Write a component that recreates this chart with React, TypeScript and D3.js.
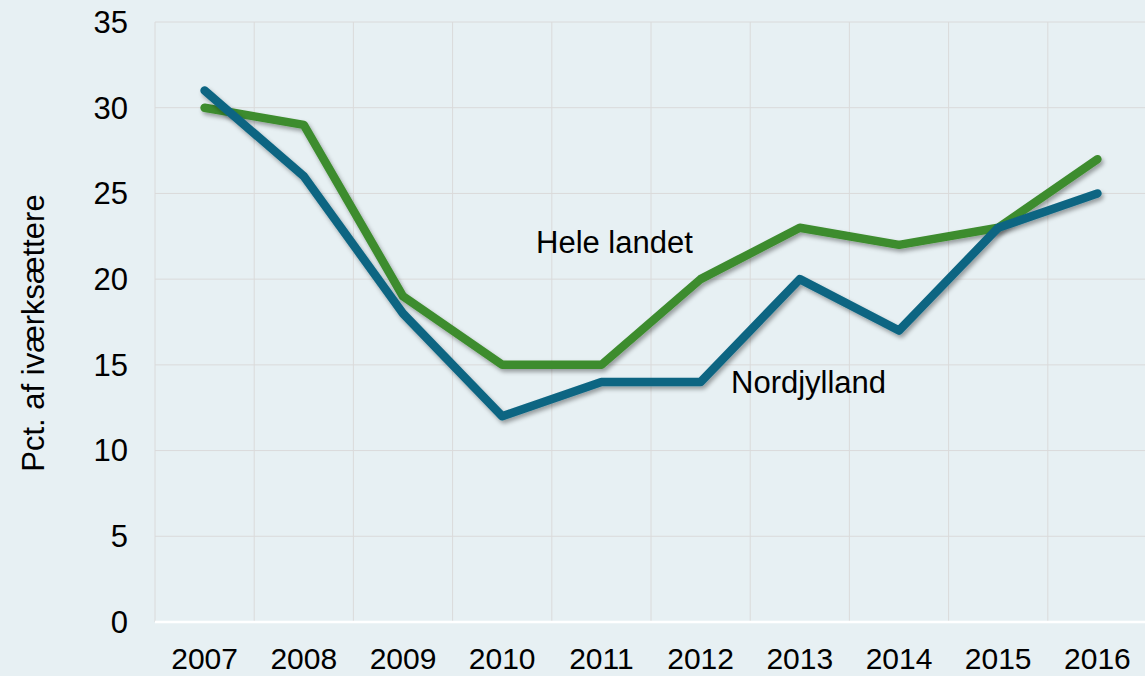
import { useEffect, useRef } from "react";
import * as d3 from "d3";

const years = ["2007", "2008", "2009", "2010", "2011", "2012", "2013", "2014", "2015", "2016"];
const heleLandet = [30, 29, 19, 15, 15, 20, 23, 22, 23, 27];
const nordjylland = [31, 26, 18, 12, 14, 14, 20, 17, 23, 25];
const yTicks = [0, 5, 10, 15, 20, 25, 30, 35];

export default function App() {
  const width = 1145;
  const height = 676;
  const margin = { top: 22, right: -2, bottom: 54, left: 155 };
  const svgRef = useRef<SVGSVGElement>(null);

  useEffect(() => {
    const svg = d3.select(svgRef.current);
    svg.selectAll("*").remove();

    const font = "'Liberation Sans', Arial, sans-serif";

    const x = d3
      .scaleBand()
      .domain(years)
      .range([margin.left, width - margin.right]);

    const y = d3
      .scaleLinear()
      .domain([0, 35])
      .range([height - margin.bottom, margin.top]);

    svg
      .append("rect")
      .attr("width", width)
      .attr("height", height)
      .attr("fill", "#e7f0f3");

    const defs = svg.append("defs");
    defs
      .append("filter")
      .attr("id", "shadow")
      .attr("x", "-10%")
      .attr("y", "-10%")
      .attr("width", "120%")
      .attr("height", "120%")
      .append("feDropShadow")
      .attr("dx", 2)
      .attr("dy", 3)
      .attr("stdDeviation", 2)
      .attr("flood-color", "#000")
      .attr("flood-opacity", 0.35);

    // grid
    const grid = svg.append("g");
    grid
      .selectAll("line.h")
      .data(yTicks.filter((t) => t > 0))
      .join("line")
      .attr("x1", margin.left)
      .attr("x2", width)
      .attr("y1", (d) => y(d))
      .attr("y2", (d) => y(d))
      .attr("stroke", "#dadada")
      .attr("stroke-width", 1);

    grid
      .selectAll("line.v")
      .data(years)
      .join("line")
      .attr("x1", (d) => x(d)!)
      .attr("x2", (d) => x(d)!)
      .attr("y1", y(35))
      .attr("y2", y(0))
      .attr("stroke", "#dadada")
      .attr("stroke-width", 1);

    svg
      .append("line")
      .attr("x1", margin.left)
      .attr("x2", width)
      .attr("y1", y(0))
      .attr("y2", y(0))
      .attr("stroke", "#ffffff")
      .attr("stroke-width", 2.5);

    // y tick labels
    svg
      .append("g")
      .selectAll("text")
      .data(yTicks)
      .join("text")
      .attr("x", 128)
      .attr("y", (d) => y(d))
      .attr("dy", "0.35em")
      .attr("text-anchor", "end")
      .attr("font-family", font)
      .attr("font-size", 31)
      .attr("fill", "#000")
      .text((d) => d);

    // x tick labels
    svg
      .append("g")
      .selectAll("text")
      .data(years)
      .join("text")
      .attr("x", (d) => x(d)! + x.bandwidth() / 2)
      .attr("y", 669)
      .attr("text-anchor", "middle")
      .attr("font-family", font)
      .attr("font-size", 30)
      .attr("fill", "#000")
      .text((d) => d);

    // y axis title
    svg
      .append("text")
      .attr("transform", "rotate(-90)")
      .attr("x", -333)
      .attr("y", 44)
      .attr("text-anchor", "middle")
      .attr("font-family", font)
      .attr("font-size", 31)
      .attr("fill", "#000")
      .text("Pct. af iværksættere");

    const line = d3
      .line<number>()
      .x((_, i) => x(years[i])! + x.bandwidth() / 2)
      .y((d) => y(d));

    const series = [
      { name: "Hele landet", values: heleLandet, color: "#3e8c2f" },
      { name: "Nordjylland", values: nordjylland, color: "#0b6582" },
    ];

    svg
      .append("g")
      .selectAll("path")
      .data(series)
      .join("path")
      .attr("d", (d) => line(d.values))
      .attr("fill", "none")
      .attr("stroke", (d) => d.color)
      .attr("stroke-width", 8.5)
      .attr("stroke-linecap", "round")
      .attr("stroke-linejoin", "round")
      .attr("filter", "url(#shadow)");

    // series labels
    svg
      .append("text")
      .attr("x", 536)
      .attr("y", 253)
      .attr("font-family", font)
      .attr("font-size", 31)
      .attr("fill", "#000")
      .text("Hele landet");

    svg
      .append("text")
      .attr("x", 731)
      .attr("y", 393)
      .attr("font-family", font)
      .attr("font-size", 31)
      .attr("fill", "#000")
      .text("Nordjylland");
  }, []);

  return (
    <svg
      ref={svgRef}
      width={width}
      height={height}
      style={{ position: "absolute", left: 0, top: 0, display: "block" }}
    />
  );
}
